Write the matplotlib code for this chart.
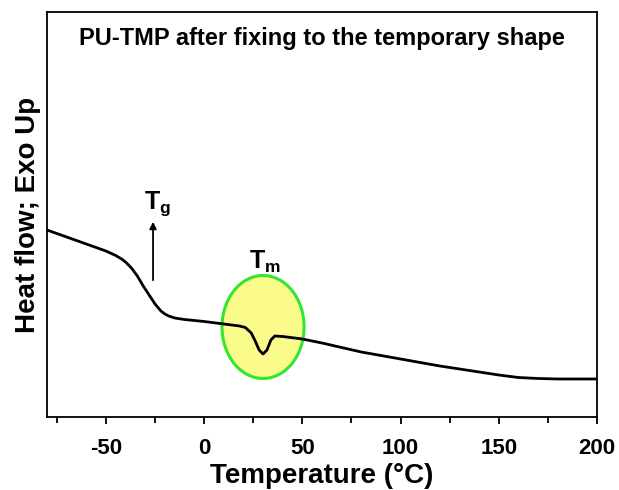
import numpy as np
import matplotlib
matplotlib.use("Agg")
import matplotlib.pyplot as plt
from matplotlib.patches import Ellipse
from matplotlib.ticker import MultipleLocator

plt.rcParams["font.family"] = ["Liberation Sans", "DejaVu Sans"]
plt.rcParams["mathtext.fontset"] = "custom"
plt.rcParams["mathtext.rm"] = "Liberation Sans"
plt.rcParams["mathtext.bf"] = "Liberation Sans:bold"
plt.rcParams["axes.unicode_minus"] = False

# DSC curve (arbitrary heat-flow units)
temperature = [-80, -70, -60, -50, -45, -42, -40, -37, -34, -31, -28, -25, -22, -20, -18,
               -15, -10, 0, 10, 18, 21, 24, 26, 28, 30, 32, 34, 36, 40, 50, 60, 70,
               80, 90, 100, 110, 120, 130, 140, 150, 160, 170, 180, 190, 200]
heat_flow = [1.87, 1.80, 1.73, 1.66, 1.615, 1.58, 1.55, 1.49, 1.41, 1.31, 1.22, 1.13, 1.06,
             1.03, 1.01, 0.99, 0.975, 0.955, 0.93, 0.91, 0.895, 0.84, 0.76, 0.67, 0.63,
             0.67, 0.77, 0.81, 0.805, 0.78, 0.74, 0.695, 0.65, 0.615, 0.58, 0.545,
             0.51, 0.48, 0.45, 0.42, 0.395, 0.385, 0.38, 0.38, 0.38]

tg_temp = -26
tm_temp = 30

fig = plt.figure(figsize=(6.19, 4.90), dpi=100)
ax = fig.add_axes([0.0759, 0.149, 0.8885, 0.8265])

ax.add_patch(Ellipse((tm_temp, 0.90), 41.8, 1.03, facecolor="#fbfb8c",
                     edgecolor="#33e62e", linewidth=2.2, zorder=1))
ax.plot(temperature, heat_flow, color="black", linewidth=2.0, zorder=2)

ax.annotate("", xy=(tg_temp, 1.98), xytext=(tg_temp, 1.34),
            arrowprops=dict(arrowstyle="-|>", color="black", lw=1.3,
                            mutation_scale=10))
ax.text(tg_temp + 2.5, 2.13, r"$\mathbf{T_g}$", fontsize=18, ha="center", va="center")
ax.text(tm_temp + 1, 1.55, r"$\mathbf{T_m}$", fontsize=18, ha="center", va="center")

ax.text(0.5, 0.935, "PU-TMP after fixing to the temporary shape", transform=ax.transAxes,
        ha="center", va="center", fontsize=17, fontweight="bold")

ax.set_xlim(-80, 200)
ax.set_ylim(0, 4.05)
ax.xaxis.set_major_locator(MultipleLocator(50))
ax.xaxis.set_minor_locator(MultipleLocator(25))
ax.tick_params(axis="x", which="major", direction="out", length=5, width=1.3,
               labelsize=16, pad=10)
ax.tick_params(axis="x", which="minor", direction="out", length=4, width=1.3)
ax.set_yticks([])
for lbl in ax.get_xticklabels():
    lbl.set_fontweight("bold")
for sp in ax.spines.values():
    sp.set_linewidth(1.3)

ax.set_xlabel("Temperature (\u00b0C)", fontsize=20, fontweight="bold", labelpad=3)
ax.set_ylabel("Heat flow; Exo Up", fontsize=20, fontweight="bold", labelpad=4)

fig.savefig("out.png", dpi=100)
